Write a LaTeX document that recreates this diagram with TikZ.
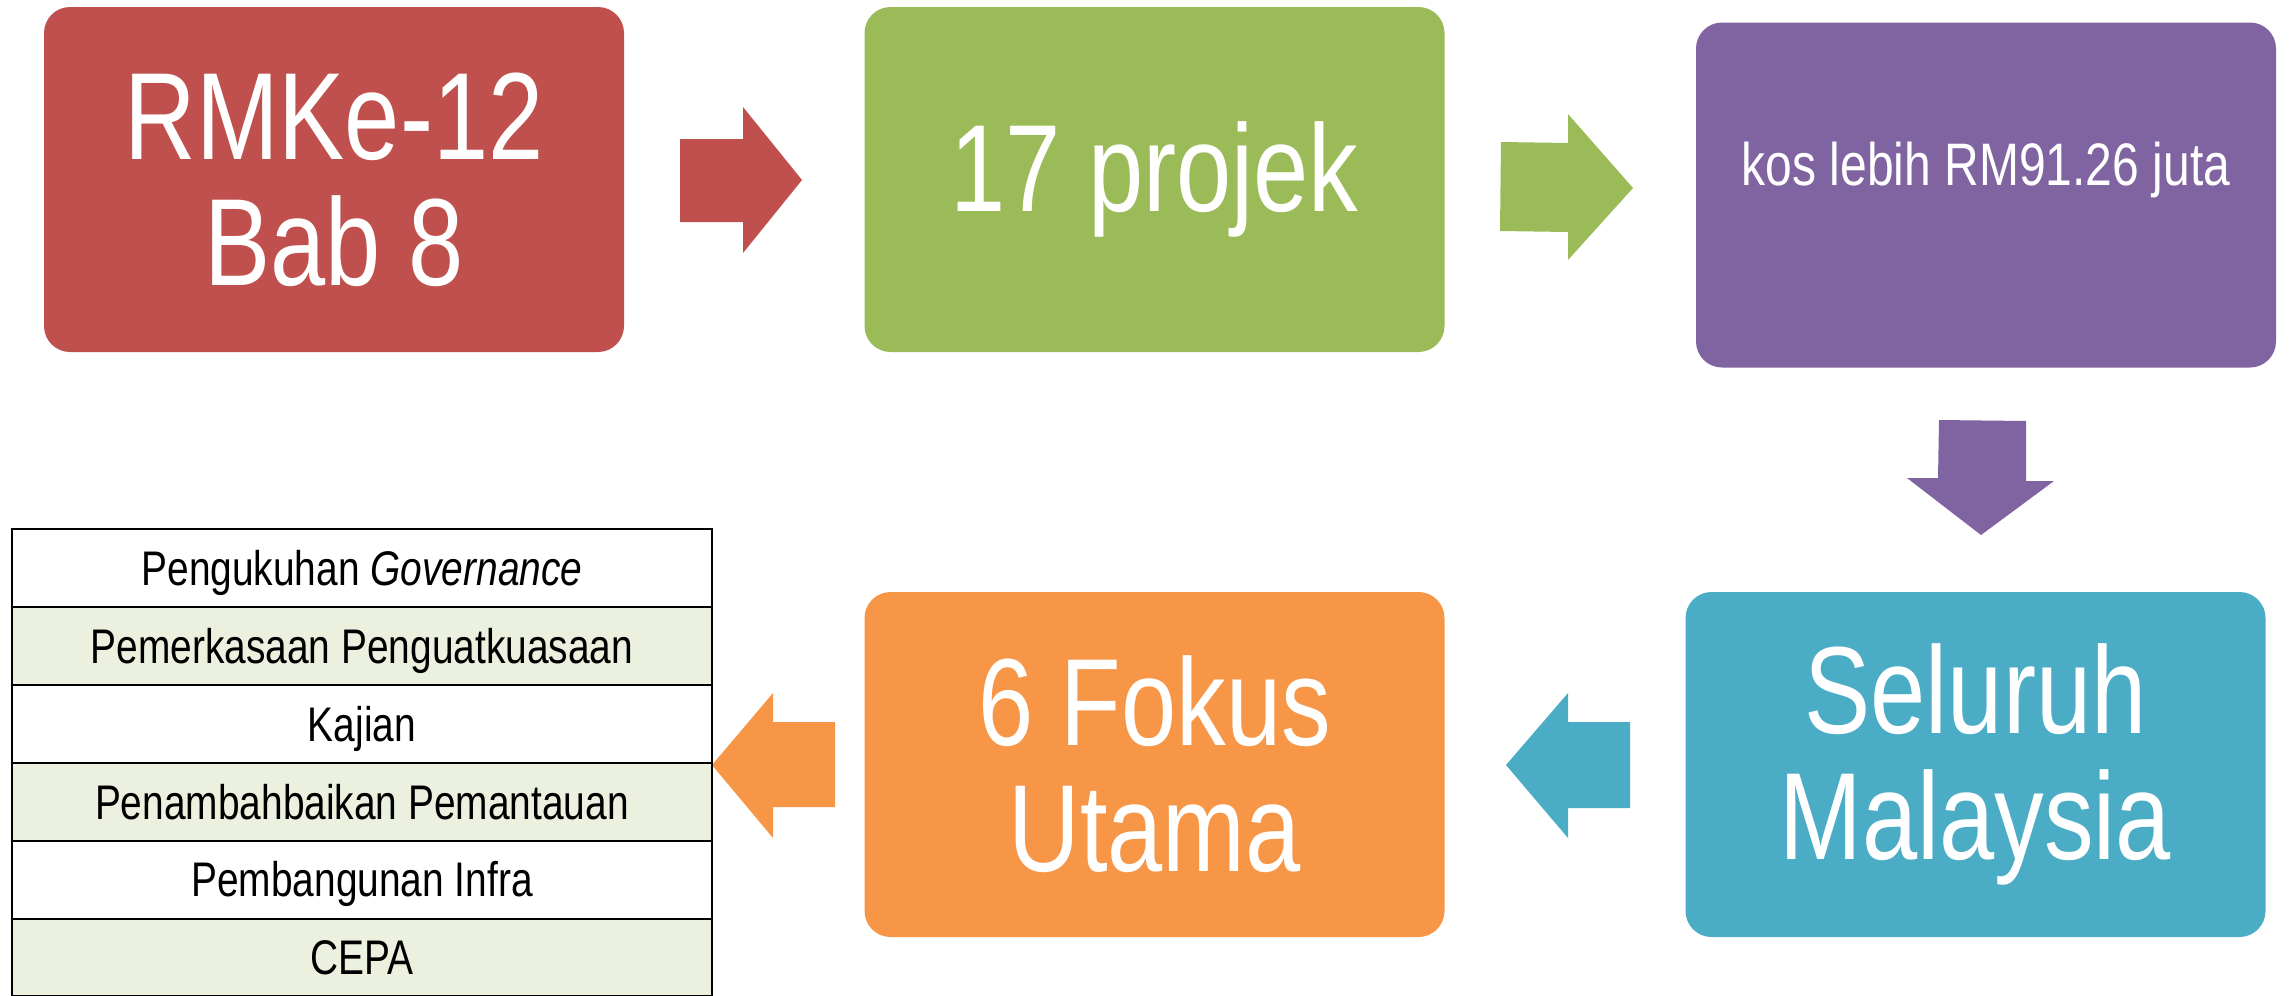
\documentclass[tikz,border=0pt]{standalone}
\usepackage{fontspec}
\setmainfont[FakeStretch=0.8]{Liberation Sans}
\definecolor{cred}{HTML}{C0504D}
\definecolor{cgreen}{HTML}{9BBB59}
\definecolor{cpurple}{HTML}{8064A2}
\definecolor{cteal}{HTML}{4BACC6}
\definecolor{corange}{HTML}{F79646}
\definecolor{crow}{HTML}{EBF1DE}
\begin{document}
\begin{tikzpicture}[x=0.5pt,y=-0.5pt,
  bigbox/.style={rounded corners=13pt, minimum width=290pt, minimum height=172.5pt,
    inner sep=0pt, text=white, font=\fontsize{62}{63}\selectfont, align=center},
  smalltext/.style={text=white, font=\fontsize{30}{33}\selectfont, inner sep=0pt},
  rowbox/.style={draw=black, line width=1pt, minimum width=350pt, minimum height=38.95pt,
    inner sep=0pt, text height=17.4pt, text depth=-2pt, font=\fontsize{24.3}{26}\selectfont},
  oddrow/.style={rowbox, fill=white},
  evenrow/.style={rowbox, fill=crow}]
\useasboundingbox (0,0) rectangle (2292,996);
% boxes
\node[bigbox, fill=cred] (rmk) at (334,179.5) {RMKe-12\\Bab 8};
\node[bigbox, fill=cgreen] (proj) at (1154.5,179.5) {17 projek};
\node[bigbox, fill=cpurple] (kos) at (1986,195) {};
\node[smalltext] (kostext) at (1986,170) {kos lebih RM91.26 juta};
\node[bigbox, fill=cteal] (sel) at (1975.5,764.5) {Seluruh\\Malaysia};
\node[bigbox, fill=corange] (fok) at (1154.5,764.5) {6 Fokus\\Utama};
% block arrows
\fill[cred] (680,139) -- (743,139) -- (743,107) -- (802,180) -- (743,253) -- (743,222) -- (680,222) -- cycle;
\fill[cgreen] (1501,142) -- (1568,143) -- (1568,114) -- (1633,188) -- (1568,260) -- (1568,232) -- (1500,231) -- cycle;
\fill[cpurple] (1939,420) -- (2026,421) -- (2026,481) -- (2054,481) -- (1981,535) -- (1907,478) -- (1938,478) -- cycle;
\fill[cteal] (1630,722) -- (1568,722) -- (1568,693) -- (1506,765) -- (1568,838) -- (1568,808) -- (1630,808) -- cycle;
\fill[corange] (835,722) -- (773,722) -- (773,693) -- (712,765) -- (773,838) -- (773,807) -- (835,807) -- cycle;
% table
\node[oddrow] (r1) at (362,567.95) {Pengukuhan \textit{Governance}};
\node[evenrow] (r2) at (362,645.85) {Pemerkasaan Penguatkuasaan};
\node[oddrow] (r3) at (362,723.75) {Kajian};
\node[evenrow] (r4) at (362,801.65) {Penambahbaikan Pemantauan};
\node[oddrow] (r5) at (362,879.55) {Pembangunan Infra};
\node[evenrow] (r6) at (362,957.45) {CEPA};
\end{tikzpicture}
\end{document}
